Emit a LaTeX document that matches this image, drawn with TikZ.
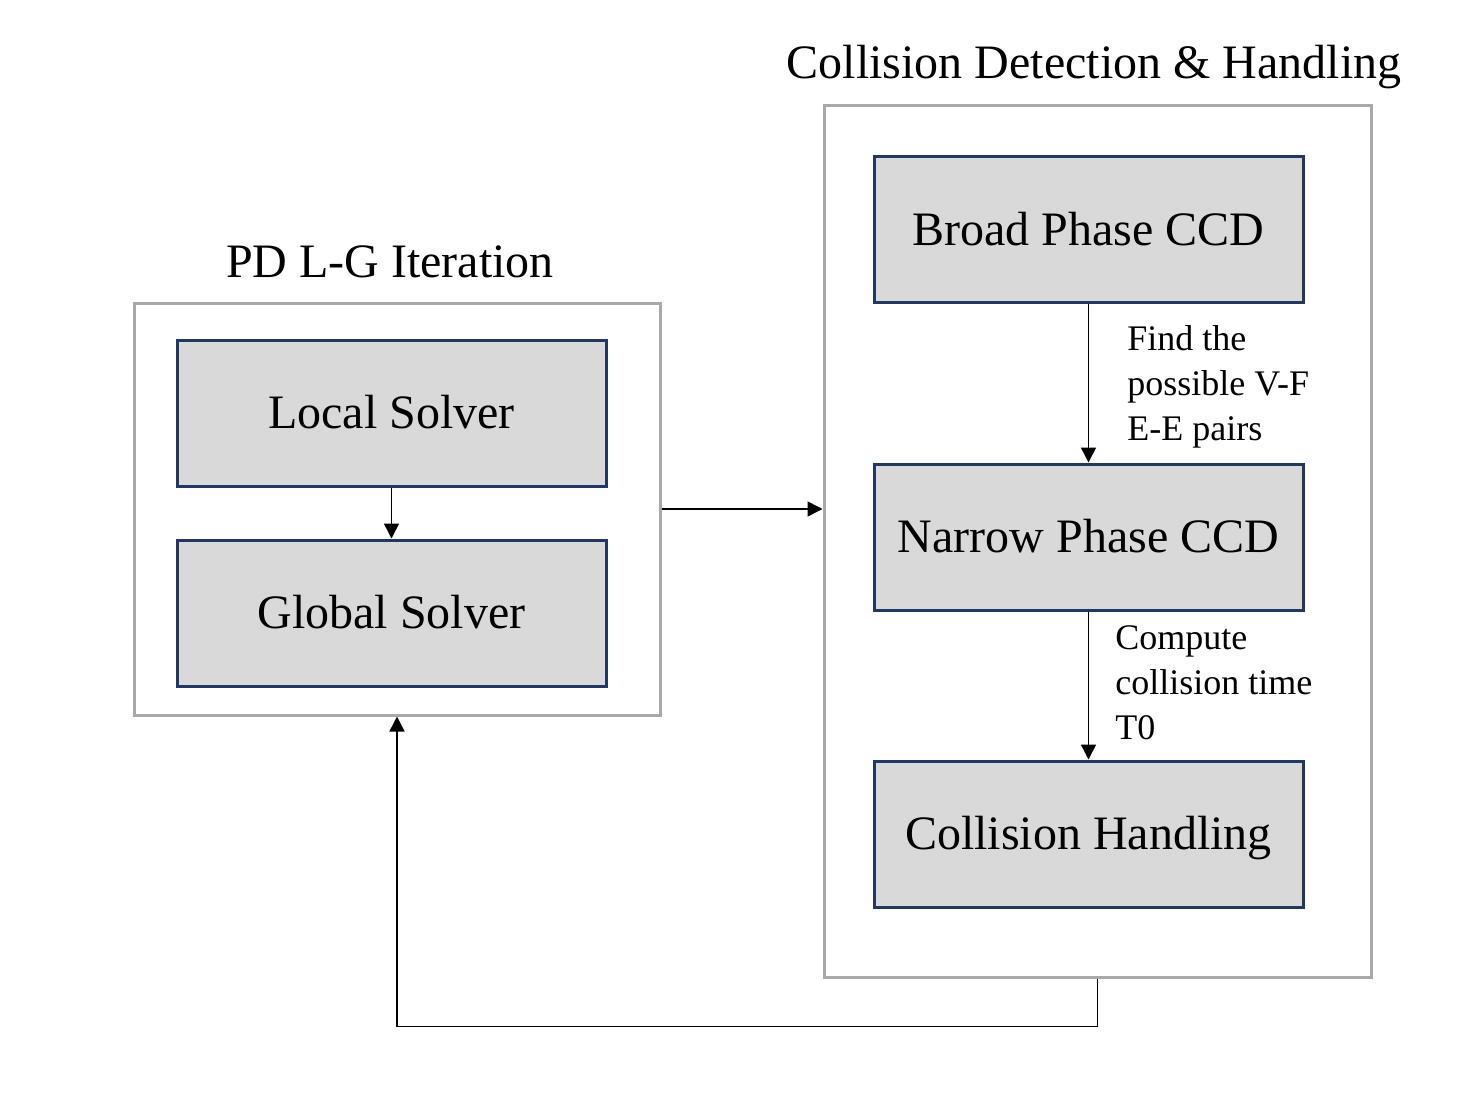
\documentclass[tikz,border=0pt]{standalone}
\usepackage{fontspec}
\setmainfont{Liberation Serif}
\usetikzlibrary{arrows.meta}
\definecolor{navy}{HTML}{1F3864}
\definecolor{boxfill}{HTML}{D9D9D9}
\definecolor{outergray}{HTML}{A9A9A9}
\begin{document}
\begin{tikzpicture}[x=0.5pt,y=-0.5pt,
  solverbox/.style={draw=navy,fill=boxfill,line width=1.5pt,minimum width=214.5pt,minimum height=73pt,inner sep=0pt,
    font=\fontsize{24}{28}\selectfont,text height=15.9pt,text depth=0pt},
  outerbox/.style={draw=outergray,line width=1.5pt,inner sep=0pt},
  titletext/.style={font=\fontsize{24}{28}\selectfont,inner sep=0pt,anchor=base},
  labeltext/.style={font=\fontsize{18}{22.5}\selectfont,align=left,inner sep=0pt,anchor=west},
  conn/.style={line width=0.75pt,-{Triangle[length=7.5pt,width=7.5pt]}}]
\useasboundingbox (0,0) rectangle (1476,1092);
% outer boxes
\node[outerbox,minimum width=263pt,minimum height=206pt] (lbox) at (397,509) {};
\node[outerbox,minimum width=273.5pt,minimum height=436pt] (rbox) at (1097.5,541) {};
% titles
\node[titletext] (ltitle) at (390,277) {PD L-G Iteration};
\node[titletext] (rtitle) at (1094,78) {Collision Detection \& Handling};
% solver boxes
\node[solverbox] (local) at (391.5,413) {Local Solver};
\node[solverbox] (global) at (391.5,613) {Global Solver};
\node[solverbox] (broad) at (1088.5,229.5) {Broad Phase CCD};
\node[solverbox] (narrow) at (1088.5,537) {Narrow Phase CCD};
\node[solverbox] (handling) at (1088.5,834) {Collision Handling};
% labels
\node[labeltext] (lab1) at (1127,386.5) {Find the\\possible V-F\\E-E pairs};
\node[labeltext] (lab2) at (1115,682.5) {Compute\\collision time\\T0};
% connectors
\draw[conn] (local) -- (global);
\draw[conn] (broad) -- (narrow);
\draw[conn] (narrow) -- (handling);
\draw[conn] (lbox.east) -- (lbox.east -| rbox.west);
\draw[conn] (rbox.south) -- ++(0,48) -| (lbox.south);
\end{tikzpicture}
\end{document}
